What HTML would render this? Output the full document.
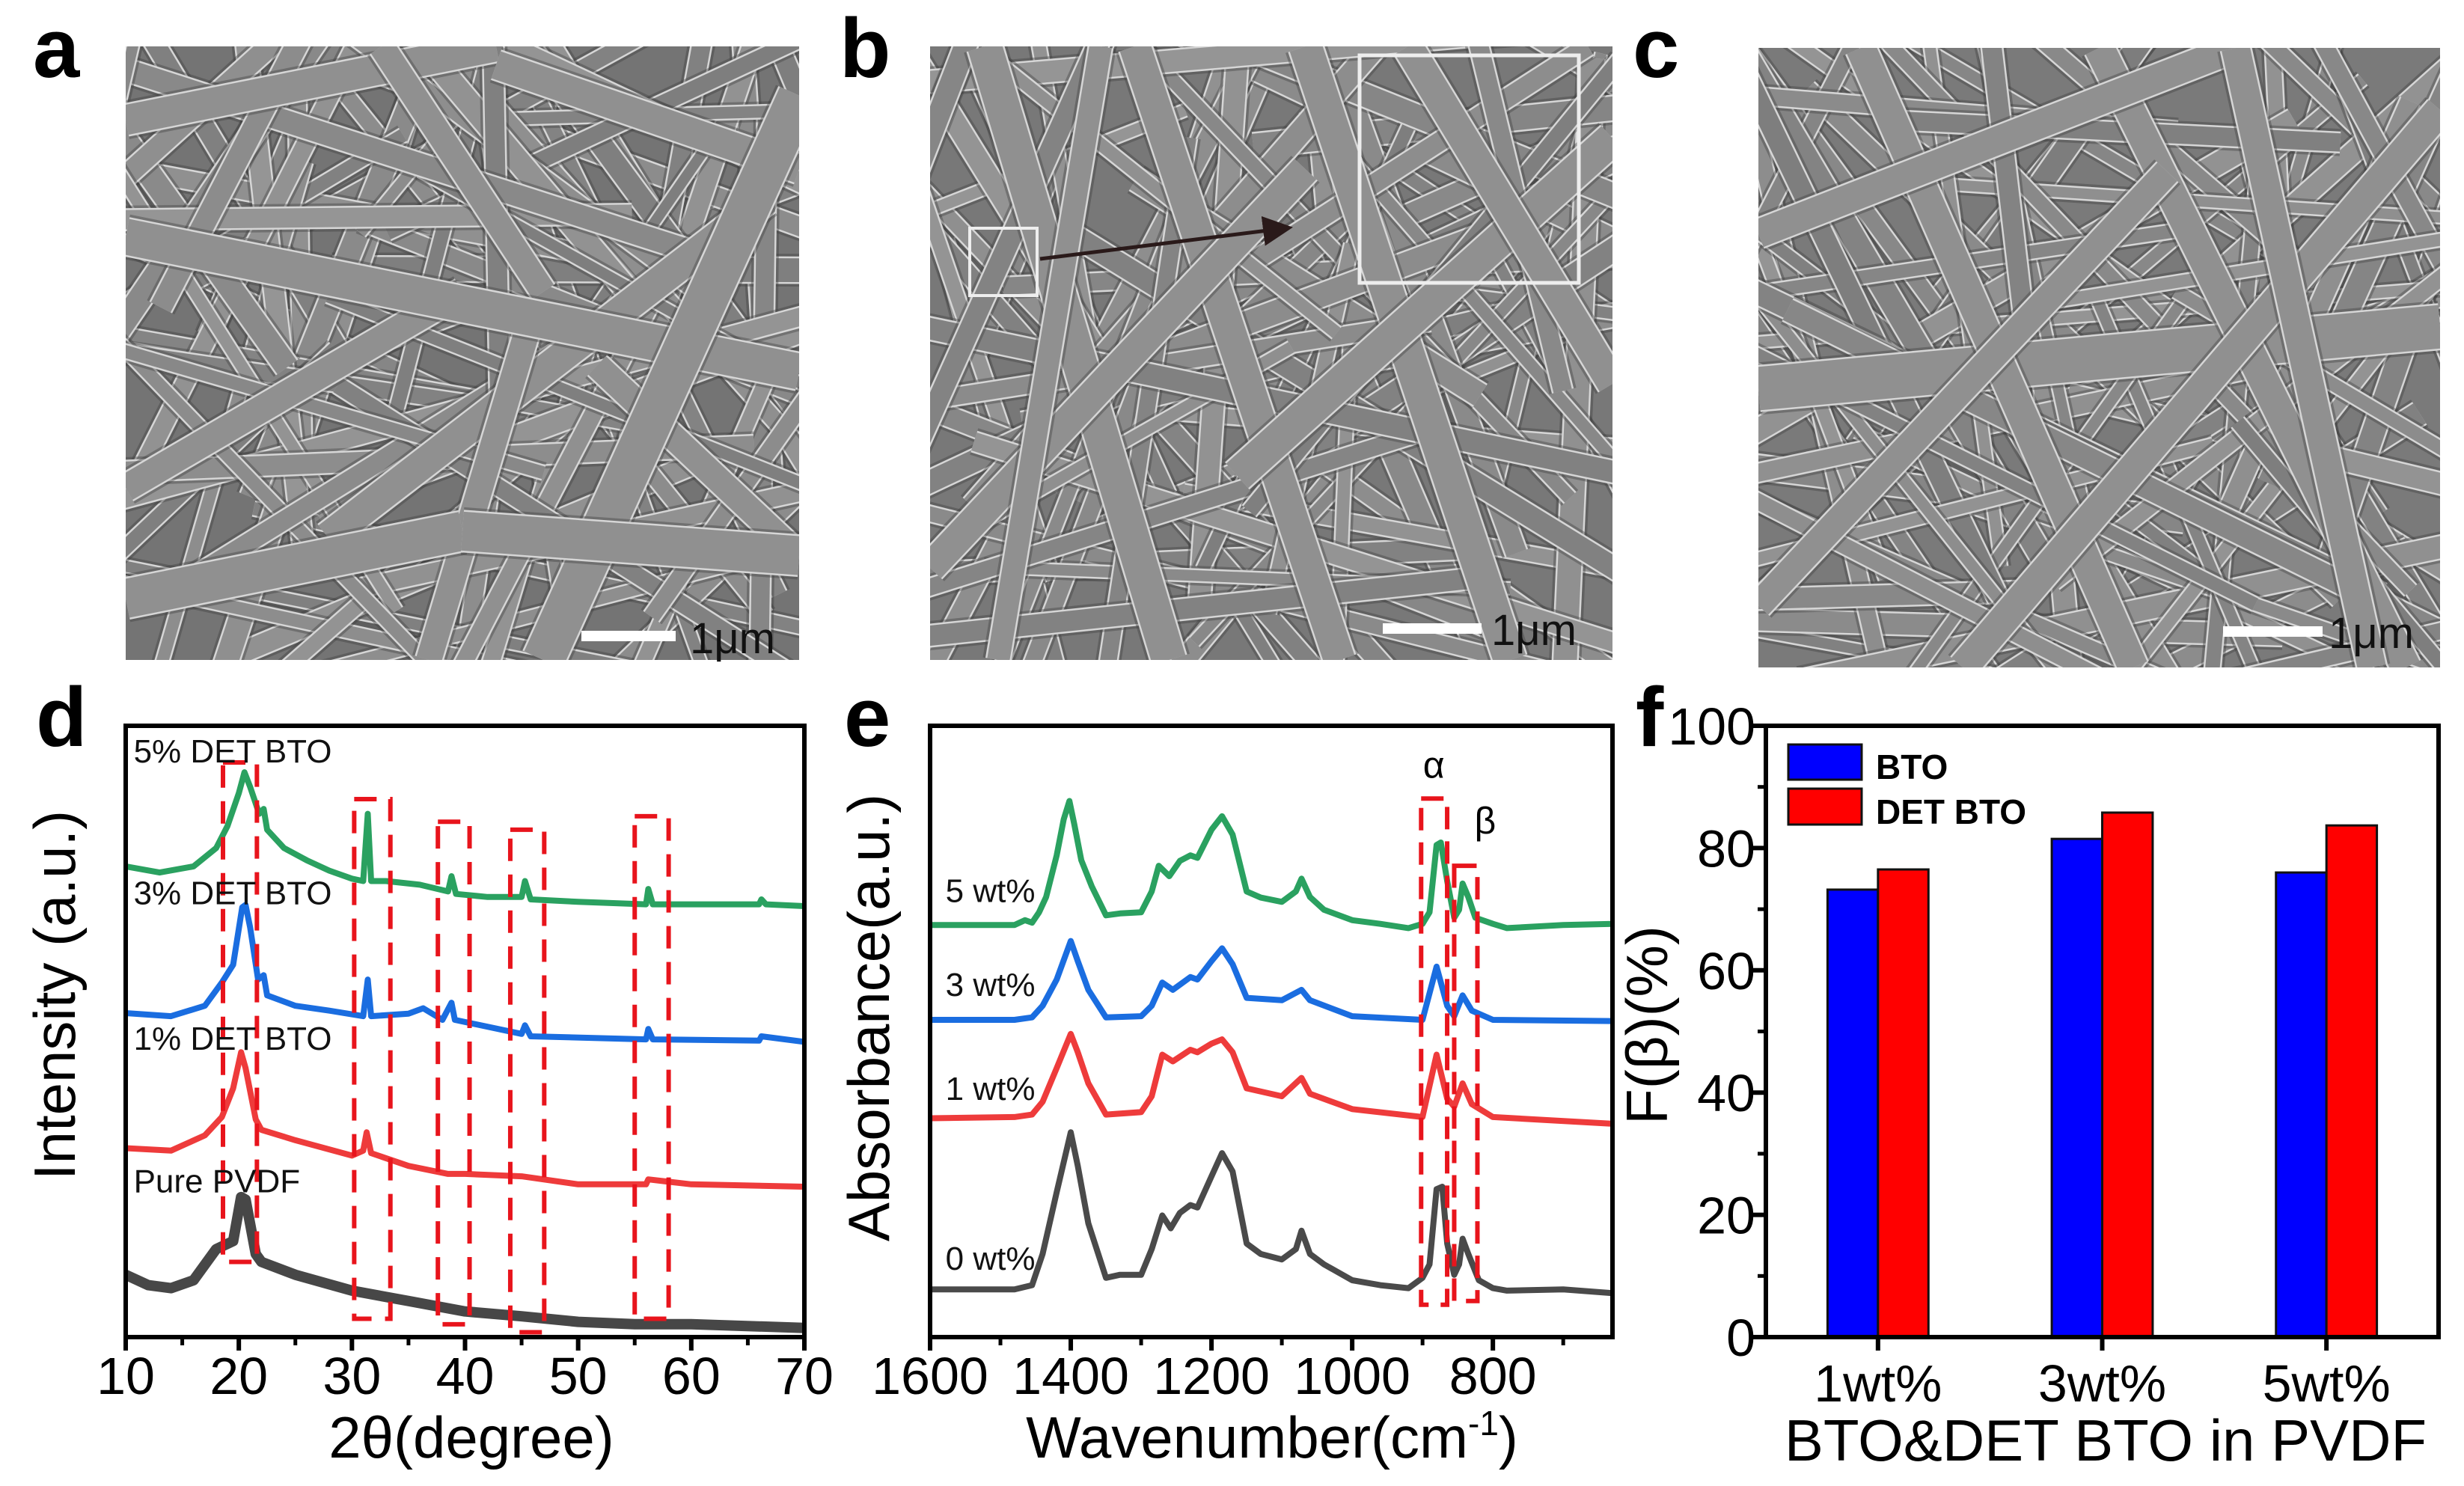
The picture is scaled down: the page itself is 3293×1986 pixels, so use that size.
<!DOCTYPE html>
<html><head><meta charset="utf-8"><style>
html,body{margin:0;padding:0;background:#fff}
svg{display:block}
text{font-family:"Liberation Sans",sans-serif}
</style></head><body>
<svg id="fig" width="3293" height="1986" viewBox="0 0 3293 1986" xmlns="http://www.w3.org/2000/svg">
<defs>
<clipPath id="clipA"><rect x="168" y="62" width="900" height="820"/></clipPath>
<clipPath id="clipB"><rect x="1243" y="62" width="912" height="820"/></clipPath>
<clipPath id="clipC"><rect x="2350" y="64" width="911" height="828"/></clipPath>
<clipPath id="clipD"><rect x="168" y="970" width="907" height="817"/></clipPath>
<clipPath id="clipE"><rect x="1243" y="970" width="912" height="817"/></clipPath>
<marker id="arr" markerWidth="8" markerHeight="8" refX="6" refY="4" orient="auto" markerUnits="strokeWidth"><path d="M0,0 L8,4 L0,8 z" fill="#2a1a1a"/></marker>
</defs>
<rect width="3293" height="1986" fill="#fff"/>
<g id="semA" clip-path="url(#clipA)"></g>
<g id="semB" clip-path="url(#clipB)"></g>
<g id="semC" clip-path="url(#clipC)"></g>
<g id="overlays">
<rect x="777" y="843" width="126" height="14" fill="#fff"/>
<text x="922" y="873" font-size="58" fill="#111">1μm</text>
<rect x="1848" y="833" width="132" height="14" fill="#fff"/>
<text x="1993" y="862" font-size="58" fill="#111">1μm</text>
<rect x="2971" y="837" width="133" height="14" fill="#fff"/>
<text x="3112" y="866" font-size="58" fill="#111">1μm</text>
<rect x="1296" y="305" width="90" height="90" fill="none" stroke="#eee" stroke-width="4"/>
<rect x="1817" y="74" width="293" height="304" fill="none" stroke="#eee" stroke-width="5"/>
<line x1="1390" y1="346" x2="1718" y2="305" stroke="#2a1a1a" stroke-width="5" marker-end="url(#arr)"/>
</g>
<g id="letters" font-weight="bold" font-size="112" fill="#000">
<text x="44" y="103">a</text>
<text x="1122" y="103">b</text>
<text x="2182" y="103">c</text>
<text x="48" y="997">d</text>
<text x="1128" y="997">e</text>
<text x="2186" y="997">f</text>
</g>
<g id="chartD"></g>
<g id="chartE"></g>
<g id="chartF"></g>
</svg>
<script>
// ---------- Panel d data (XRD) ----------
const xrdGreenX=[10,13,16,18,19,20,20.5,21,21.8,22.2,22.5,24,26,28,30,31,31.4,31.7,33,36,38.5,38.8,39.2,42,45,45.3,45.8,50,56,56.2,56.6,66,66.2,66.6,70];
const xrdGreenY=[77,76,77,80,83.6,89,92.4,90,85.6,86.4,83,80,78,76.3,75,74.6,85.6,74.6,74.6,74,72.9,75.4,72.5,72,72,74.6,71.6,71.2,70.8,73.3,70.8,70.8,71.6,70.8,70.5];
const xrdBlueX=[10,14,17,18.5,19.5,20.3,20.6,21,21.7,22.2,22.5,25,28,31,31.4,31.7,35,36.3,38,38.8,39.1,45,45.3,45.8,56,56.2,56.6,66,66.2,70];
const xrdBlueY=[53,52.5,54.2,58,60.9,70.3,70.7,67,58.5,59.2,55.9,54.2,53.4,52.5,58.5,52.5,52.9,53.8,51.9,54.7,51.9,49.6,51,49.2,48.7,50.4,48.7,48.5,49.2,48.3];
const xrdRedX=[10,14,17,18.5,19.5,20.2,20.6,21.5,22,25,30,31,31.3,31.7,35,38.5,40,45,50,56,56.2,60,70];
const xrdRedY=[30.9,30.5,33,36,40.7,46.6,44,35.6,33.9,32.2,29.7,30.5,33.5,30.1,28,26.7,26.7,26.3,25,25,25.8,25,24.6];
const xrdGrayX=[10,12,14,16,18,19.5,20.2,20.6,21.5,22,25,30,35,40,45,50,55,60,70];
const xrdGrayY=[10.2,8.5,8,9.3,14.4,15.7,22.9,22.5,13.6,12.3,10.2,7.6,5.9,4.2,3.4,2.5,2.1,2.1,1.5];
const xrdBoxX0=[18.6,30.2,37.6,44,55];
const xrdBoxX1=[21.6,33.4,40.4,47,58];
const xrdBoxTop=[94,88,84.3,83,85.2];
const xrdBoxBottom=[12.3,3,2.1,0.8,3];
const xrdLabels=["5% DET BTO","3% DET BTO","1% DET BTO","Pure PVDF"];
const xrdLabelY=[94,70.8,47,23.7];
const xrdTicks=[10,20,30,40,50,60,70];

// ---------- Panel e data (FTIR) ----------
const irGreenX=[1600,1480,1465,1455,1445,1435,1420,1410,1402,1395,1385,1370,1350,1330,1300,1285,1275,1260,1245,1230,1220,1200,1185,1170,1150,1130,1100,1080,1072,1060,1040,1000,960,920,900,890,880,874,865,855,848,843,835,825,800,780,700,630];
const irGreenY=[67.4,67.4,68.2,67.8,69.5,72,78.8,84.7,87.7,83.9,78,73.7,69,69.3,69.5,72.9,77.1,75.4,77.9,78.8,78.4,83,85.2,82.2,72.9,71.9,71.2,72.9,75,72,69.9,68.2,67.6,66.9,67.6,69.5,80.5,80.9,74.6,68.6,69.9,74.2,72,68.6,67.6,66.9,67.4,67.6];
const irBlueX=[1600,1480,1455,1440,1420,1400,1390,1375,1350,1300,1285,1270,1255,1230,1220,1200,1185,1170,1150,1100,1072,1060,1000,900,880,865,855,843,830,800,630];
const irBlueY=[51.9,51.9,52.3,54.2,58.5,64.8,61.5,56.8,52.3,52.5,54.2,58,56.8,58.9,58.5,61.5,63.6,61,55.5,55.1,56.8,55.1,52.5,51.9,60.6,54.2,52.5,55.9,53.4,51.9,51.7];
const irRedX=[1600,1480,1455,1440,1420,1400,1390,1375,1350,1300,1285,1270,1255,1230,1220,1200,1185,1170,1150,1100,1072,1060,1000,900,880,865,855,843,830,800,630];
const irRedY=[35.8,36,36.4,38.5,44,49.6,46.6,41.5,36.4,36.8,39.4,46.2,45.1,47,46.6,48,48.7,46.6,40.7,39.4,42.4,39.8,37.3,36,46.2,39,37.7,41.5,38.1,36,34.9];
const irGrayX=[1600,1480,1455,1440,1420,1400,1390,1375,1350,1330,1300,1285,1270,1258,1245,1230,1220,1200,1185,1170,1150,1130,1100,1080,1072,1060,1040,1000,960,920,900,890,880,872,865,855,848,843,835,820,800,780,700,630];
const irGrayY=[7.8,7.8,8.5,13.6,23.7,33.5,28,18.6,9.7,10.2,10.2,14.4,19.9,17.8,20.3,21.6,21.2,26.3,30.1,27.1,15.3,13.6,12.7,14.4,17.4,13.6,11.9,9.3,8.5,8,9.7,11.9,24.2,24.6,15.3,10.2,11.9,16.1,13.6,9.3,8,7.6,7.8,7.2];
const irLabels=["5 wt%","3 wt%","1 wt%","0 wt%"];
const irLabelY=[71.2,55.8,38.8,11];
const irBoxX0=[902,855];
const irBoxX1=[865,822];
const irBoxTop=[88.1,77.1];
const irBoxBottom=[5.3,5.9];
const irTicks=[1600,1400,1200,1000,800];
const irMinor=[1500,1300,1100,900,700];

// ---------- Panel f data (bars) ----------
const fCategories=["1wt%","3wt%","5wt%"];
const fBTO=[73.2,81.5,76];
const fDET=[76.5,85.8,83.7];
const fTicks=[0,20,40,60,80,100];
const fMinor=[10,30,50,70,90];

const NS="http://www.w3.org/2000/svg";
function mk(tag,attrs,parent){const e=document.createElementNS(NS,tag);for(const k in attrs)e.setAttribute(k,attrs[k]);parent.appendChild(e);return e;}

// ===== SEM images (decorative texture) =====
function lcg(seed){let s=seed;return()=>{s=(s*1103515245+12345)%2147483648;return s/2147483648;};}
function sem(gid,x0,y0,w,h,major,seed,bg){
  const g=document.getElementById(gid);
  mk('rect',{x:x0,y:y0,width:w,height:h,fill:bg},g);
  const r=lcg(seed);
  const fib=(ax,ay,bx,by,wd,body)=>{
    const d=`M${x0+ax*w},${y0+ay*h} L${x0+bx*w},${y0+by*h}`;
    mk('path',{d:d,stroke:'#3e3e3e',"stroke-width":wd+12,fill:'none',"stroke-opacity":0.4},g);
    mk('path',{d:d,stroke:'#d6d6d6',"stroke-width":wd+5,fill:'none'},g);
    mk('path',{d:d,stroke:body,"stroke-width":wd,fill:'none'},g);
  };
  for(let i=0;i<70;i++){
    const cx=r(),cy=r(),a=r()*Math.PI,L=0.6+r()*0.8;
    const dx=Math.cos(a)*L/2,dy=Math.sin(a)*L/2;
    const v=125+Math.floor(r()*25);
    fib(cx-dx,cy-dy,cx+dx,cy+dy,14+r()*18,`rgb(${v},${v},${v})`);
  }
  major.forEach(m=>fib(m[0],m[1],m[2],m[3],m[4],'#909090'));
}
sem('semA',168,62,900,820,[[0,0.12,0.55,0.0,40],[0.38,0,0.62,0.4,34],[0.55,0.03,1,0.2,38],[0,0.72,0.5,0.4,36],[0.3,0.8,0.95,0.25,40],[0.7,0.52,1,0.83,34],[0.45,1,0.6,0.45,34],[0,0.31,1,0.53,48],[0.62,1,1,0.08,56],[0,0.9,0.5,0.79,52],[0.5,0.79,1,0.83,52]],7,'#747474');
sem('semB',1243,62,912,820,[[0.08,0,0.35,1,46],[0.3,0,0.6,1,42],[0.55,0,0.85,1,44],[0,0.85,0.55,0.2,40],[0.45,0.7,1,0.15,44],[0.7,0,1,0.55,40],[0.25,0.0,0.1,1,30]],19,'#787878');
sem('semC',2350,64,911,828,[[0,0.55,1,0.45,58],[0.15,0,0.55,1,40],[0.5,0,0.95,1,40],[0,0.3,0.7,0,38],[0.3,1,1,0.1,40],[0,0.9,0.6,0.2,36],[0.7,0,0.9,1,38]],31,'#7a7a7a');

// ===== axis helper =====
function frame(g,x0,y0,x1,y1){mk('rect',{x:x0,y:y0,width:x1-x0,height:y1-y0,fill:'none',stroke:'#000',"stroke-width":6},g);}
function line(g,xs,ys,X,Y,color,sw,name){
  let d='';xs.forEach((v,i)=>{d+=(i?'L':'M')+X(v).toFixed(1)+','+Y(ys[i]).toFixed(1);});
  const p=mk('path',{d:d,stroke:color,"stroke-width":sw,fill:'none',"stroke-linejoin":'round'},g);
  
  
}

// ===== Panel d =====
(function(){
  const g=document.getElementById('chartD');
  const L=168,R=1075,T=970,B=1787;
  const X=v=>L+(v-10)/60*(R-L), Y=v=>B-v/100*(B-T);
  const cg=mk('g',{"clip-path":'url(#clipD)'},g);
  xrdBoxX0.forEach((x,i)=>{
    const r=mk('rect',{x:X(x),y:Y(xrdBoxTop[i]),width:X(xrdBoxX1[i])-X(x),height:Y(xrdBoxBottom[i])-Y(xrdBoxTop[i]),fill:'none',stroke:'#e8141c',"stroke-width":6,"stroke-dasharray":'30,18'},g);
    
    
  });
  line(cg,xrdGrayX,xrdGrayY,X,Y,'#474747',14,'xrd-line-pure-pvdf');
  line(cg,xrdRedX,xrdRedY,X,Y,'#ee3b3b',8,'xrd-line-1pct');
  line(cg,xrdBlueX,xrdBlueY,X,Y,'#1a6de0',8,'xrd-line-3pct');
  line(cg,xrdGreenX,xrdGreenY,X,Y,'#2aa160',8,'xrd-line-5pct');
  xrdLabels.forEach((t,i)=>{
    const e=mk('text',{x:X(10.7),y:Y(xrdLabelY[i]),"font-size":44,fill:'#111'},g);e.textContent=t;
    
    
  });
  frame(g,L,T,R,B);
  xrdTicks.forEach(v=>{
    mk('line',{x1:X(v),y1:B,x2:X(v),y2:B+18,stroke:'#000',"stroke-width":6},g);
    const e=mk('text',{x:X(v),y:1863,"font-size":70,"text-anchor":'middle'},g);e.textContent=v;
    
    
  });
  xrdTicks.slice(0,-1).forEach(v=>mk('line',{x1:X(v+5),y1:B,x2:X(v+5),y2:B+11,stroke:'#000',"stroke-width":5},g));
  let e=mk('text',{x:630,y:1948,"font-size":78,"text-anchor":'middle'},g);e.textContent='2θ(degree)';
  
  
  e=mk('text',{x:0,y:0,"font-size":78,"text-anchor":'middle',transform:'translate(100,1330) rotate(-90)'},g);e.textContent='Intensity  (a.u.)';
  
  
})();

// ===== Panel e =====
(function(){
  const g=document.getElementById('chartE');
  const L=1243,R=2155,T=970,B=1787;
  const X=w=>L+(1600-w)/(1600-630)*(R-L), Y=v=>B-v/100*(B-T);
  const cg=mk('g',{"clip-path":'url(#clipE)'},g);
  irBoxX0.forEach((x,i)=>{
    const r=mk('rect',{x:X(x),y:Y(irBoxTop[i]),width:X(irBoxX1[i])-X(x),height:Y(irBoxBottom[i])-Y(irBoxTop[i]),fill:'none',stroke:'#e8141c',"stroke-width":6,"stroke-dasharray":'30,16'},g);
    
    
  });
  line(cg,irGrayX,irGrayY,X,Y,'#4a4a4a',8,'ftir-line-0wt');
  line(cg,irRedX,irRedY,X,Y,'#ee3b3b',8,'ftir-line-1wt');
  line(cg,irBlueX,irBlueY,X,Y,'#1a6de0',8,'ftir-line-3wt');
  line(cg,irGreenX,irGreenY,X,Y,'#2aa160',8,'ftir-line-5wt');
  irLabels.forEach((t,i)=>{
    const e=mk('text',{x:X(1578),y:Y(irLabelY[i]),"font-size":44,fill:'#111'},g);e.textContent=t;
    
    
  });
  let e=mk('text',{x:X(884),y:Y(91.5),"font-size":50,"text-anchor":'middle',"font-family":'Liberation Serif'},g);e.textContent='α';
  
  
  e=mk('text',{x:X(811),y:Y(82.4),"font-size":50,"text-anchor":'middle',"font-family":'Liberation Serif'},g);e.textContent='β';
  
  
  frame(g,L,T,R,B);
  irTicks.forEach(v=>{
    mk('line',{x1:X(v),y1:B,x2:X(v),y2:B+18,stroke:'#000',"stroke-width":6},g);
    const t=mk('text',{x:X(v),y:1863,"font-size":70,"text-anchor":'middle'},g);t.textContent=v;
    
    
  });
  irMinor.forEach(v=>mk('line',{x1:X(v),y1:B,x2:X(v),y2:B+11,stroke:'#000',"stroke-width":5},g));
  e=mk('text',{x:1700,y:1948,"font-size":78,"text-anchor":'middle'},g);
  e.innerHTML='Wavenumber(cm<tspan font-size="46" dy="-30">-1</tspan><tspan dy="30">)</tspan>';
  
  
  e=mk('text',{x:0,y:0,"font-size":78,"text-anchor":'middle',transform:'translate(1188,1360) rotate(-90)'},g);e.textContent='Absorbance(a.u.)';
  
  
})();

// ===== Panel f =====
(function(){
  const g=document.getElementById('chartF');
  const L=2360,R=3259,T=970,B=1787;
  const Y=v=>B-v/100*(B-T);
  const band=(R-L)/fCategories.length, bw=band*0.225;
  fCategories.forEach((c,i)=>{
    const cx=L+band*(i+0.5);
    let r=mk('rect',{x:cx-bw,y:Y(fBTO[i]),width:bw,height:B-Y(fBTO[i]),fill:'#0000ff',stroke:'#111',"stroke-width":3},g);
    
    
    r=mk('rect',{x:cx,y:Y(fDET[i]),width:bw,height:B-Y(fDET[i]),fill:'#ff0000',stroke:'#111',"stroke-width":3},g);
    
    
    mk('line',{x1:cx,y1:B,x2:cx,y2:B+18,stroke:'#000',"stroke-width":6},g);
    const t=mk('text',{x:cx,y:1873,"font-size":70,"text-anchor":'middle'},g);t.textContent=c;
    
    
  });
  frame(g,L,T,R,B);
  fTicks.forEach(v=>{
    mk('line',{x1:L,y1:Y(v),x2:L-18,y2:Y(v),stroke:'#000',"stroke-width":6},g);
    const t=mk('text',{x:L-14,y:Y(v)+25,"font-size":70,"text-anchor":'end'},g);t.textContent=v;
    
    
  });
  fMinor.forEach(v=>mk('line',{x1:L,y1:Y(v),x2:L-11,y2:Y(v),stroke:'#000',"stroke-width":5},g));
  const lg=mk('g',{},g);
  
  
  mk('rect',{x:2390,y:995,width:98,height:47,fill:'#0000ff',stroke:'#111',"stroke-width":3},lg);
  mk('rect',{x:2390,y:1054,width:98,height:48,fill:'#ff0000',stroke:'#111',"stroke-width":3},lg);
  let t=mk('text',{x:2507,y:1041,"font-size":46,"font-weight":'bold'},lg);t.textContent='BTO';
  
  
  t=mk('text',{x:2507,y:1101,"font-size":46,"font-weight":'bold'},lg);t.textContent='DET BTO';
  
  
  t=mk('text',{x:2814,y:1952,"font-size":78,"text-anchor":'middle'},g);t.textContent='BTO&DET BTO in PVDF';
  
  
  t=mk('text',{x:0,y:0,"font-size":78,"text-anchor":'middle',transform:'translate(2228,1370) rotate(-90)'},g);t.textContent='F(β)(%)';
  
  
})();
</script>
</body></html>
